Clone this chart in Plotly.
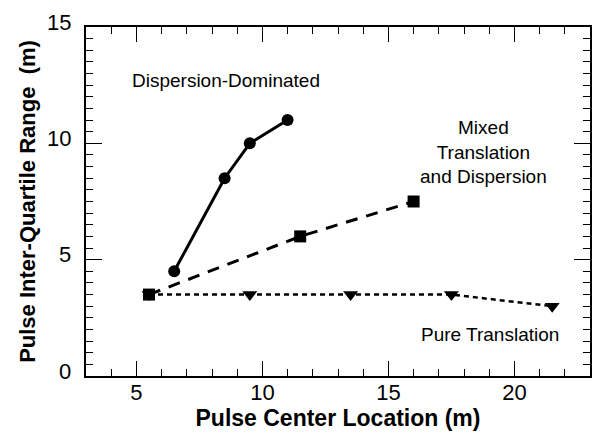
import plotly.graph_objects as go

# Data
disp_x = [6.5, 8.5, 9.5, 11.0]
disp_y = [4.5, 8.5, 10.0, 11.0]

mixed_x = [5.5, 11.5, 16.0]
mixed_y = [3.5, 6.0, 7.5]

pure_x = [5.5, 9.5, 13.5, 17.5, 21.5]
pure_y = [3.5, 3.5, 3.5, 3.5, 3.0]

x_ticks = [5, 10, 15, 20]
y_ticks = [0, 5, 10, 15]

FONT = "Liberation Sans, Arial, Helvetica, sans-serif"

fig = go.Figure()

fig.add_trace(go.Scatter(
    x=pure_x, y=pure_y, mode="lines+markers",
    line=dict(color="black", width=2.5, dash="5px,4px"),
    marker=dict(symbol="triangle-down", size=13, color="black"),
    showlegend=False))

fig.add_trace(go.Scatter(
    x=mixed_x, y=mixed_y, mode="lines+markers",
    line=dict(color="black", width=3, dash="12px,9px"),
    marker=dict(symbol="square", size=12, color="black"),
    showlegend=False))

fig.add_trace(go.Scatter(
    x=disp_x, y=disp_y, mode="lines+markers",
    line=dict(color="black", width=3),
    marker=dict(symbol="circle", size=12, color="black"),
    showlegend=False))

annots = [
    ("Dispersion-Dominated", 8.57, 12.71),
    ("Mixed<br>Translation<br>and Dispersion", 18.77, 9.62),
    ("Pure Translation", 19.05, 1.8),
]
for text, ax, ay in annots:
    fig.add_annotation(x=ax, y=ay, text=text, showarrow=False,
                       xanchor="center", yanchor="middle",
                       font=dict(family=FONT, size=19, color="black"))

# y tick labels (drawn slightly above their ticks, as in the original)
for v in y_ticks:
    fig.add_annotation(x=0, xref="paper", y=v, yref="y", text=str(v),
                       showarrow=False, xanchor="right", yanchor="middle",
                       xshift=-13, yshift=5,
                       font=dict(family=FONT, size=22, color="black"))

axis_common = dict(
    showgrid=False, zeroline=False,
    showline=True, linecolor="black", linewidth=1.5, mirror="ticks",
    ticks="inside", tickcolor="black", tickwidth=1,
    tickfont=dict(family=FONT, size=22, color="black"),
)

fig.update_xaxes(
    range=[3, 23], tickvals=x_ticks, ticklen=15,
    minor=dict(dtick=1, tick0=0, ticks="inside", ticklen=7, tickcolor="black", tickwidth=1),
    title=dict(text="<b>Pulse Center Location (m)</b>", font=dict(family=FONT, size=23, color="black"), standoff=0),
    ticklabelstandoff=-4,
    **axis_common)

fig.update_yaxes(
    range=[0, 15], tickvals=y_ticks, ticklen=16, showticklabels=False,
    minor=dict(dtick=0.5, tick0=0, ticks="inside", ticklen=7, tickcolor="black", tickwidth=1),
    title=dict(text="<b>Pulse Inter-Quartile Range  (m)</b>", font=dict(family=FONT, size=22, color="black"), standoff=43),
    **axis_common)

fig.update_layout(
    width=595, height=437,
    margin=dict(l=86, r=3, t=27, b=61),
    plot_bgcolor="white", paper_bgcolor="white",
)

fig.write_html("out.html")
